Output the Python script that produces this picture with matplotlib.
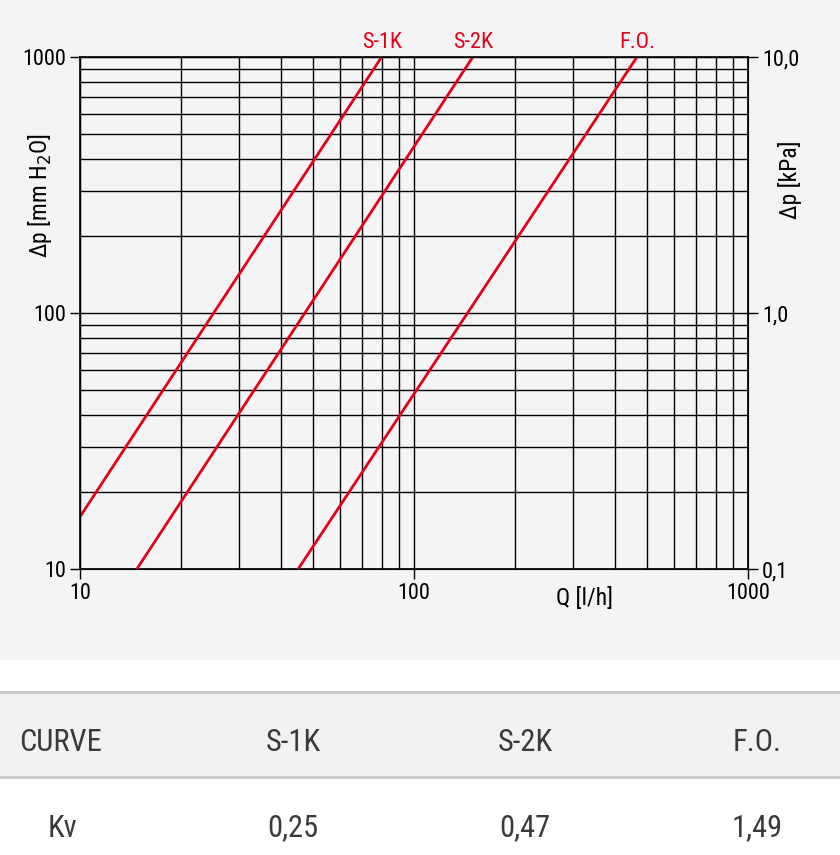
import matplotlib.pyplot as plt
from matplotlib.patches import Rectangle
from matplotlib.ticker import FixedLocator, NullFormatter

# curve endpoints (Q in l/h, dp in mm H2O)
curves = ['S-1K', 'S-2K', 'F.O.']
q_start = [10, 14.8, 45]
dp_start = [16, 10, 10]
q_end = [80, 150, 465]
dp_end = [1000, 1000, 1000]

kv_values = ['0,25', '0,47', '1,49']

x_ticks = [10, 100, 1000]
y_ticks = [10, 100, 1000]
kpa_ticks = [0.1, 1.0, 10.0]
kpa_labels = ['0,1', '1,0', '10,0']

RED = '#e2001a'
W, H = 840, 855

plt.rcParams['font.family'] = ['Roboto Condensed', 'Liberation Sans Narrow', 'Roboto', 'DejaVu Sans']

fig = plt.figure(figsize=(W / 100, H / 100), dpi=100)
fig.patch.set_facecolor('white')


def fx(px):
    return px / W


def fy(py):
    return 1 - py / H


# backgrounds of chart area and table header
fig.add_artist(Rectangle((0, fy(660)), 1, 660 / H, transform=fig.transFigure,
                         facecolor='#f4f4f4', edgecolor='none', zorder=-10))
fig.add_artist(Rectangle((0, fy(777)), 1, 85 / H, transform=fig.transFigure,
                         facecolor='#f2f2f2', edgecolor='none', zorder=-10))
for yy in (692, 777):
    fig.add_artist(plt.Line2D([0, 1], [fy(yy), fy(yy)], transform=fig.transFigure,
                              color='#c8c8c8', lw=2))

ax = fig.add_axes([fx(80), fy(569), fx(748) - fx(80), (569 - 57) / H])
ax.set_facecolor('none')
ax.set_xscale('log')
ax.set_yscale('log')
ax.set_xlim(10, 1000)
ax.set_ylim(10, 1000)

for i, name in enumerate(curves):
    ax.plot([q_start[i], q_end[i]], [dp_start[i], dp_end[i]], color=RED, lw=2, zorder=3)
    ax.annotate(name, (q_end[i], dp_end[i]), xytext=(0, 3), textcoords='offset points',
                ha='center', va='bottom', color=RED, fontsize=16, annotation_clip=False)

ax.grid(True, which='both', color='black', lw=1)
ax.set_axisbelow(True)
for s in ax.spines.values():
    s.set_color('black')
    s.set_linewidth(1.2)

ax.xaxis.set_major_locator(FixedLocator(x_ticks))
ax.yaxis.set_major_locator(FixedLocator(y_ticks))
ax.set_xticklabels([str(v) for v in x_ticks])
ax.set_yticklabels([str(v) for v in y_ticks])
ax.xaxis.set_minor_formatter(NullFormatter())
ax.yaxis.set_minor_formatter(NullFormatter())
ax.tick_params(which='major', direction='out', length=7, width=1, labelsize=16, pad=3)
ax.tick_params(which='minor', length=0)

fig.text(fx(40), fy(195), 'Δp [mm H$_2$O]', rotation=90, ha='center', va='center', fontsize=17)
fig.text(fx(585), fy(598), 'Q [l/h]', ha='center', va='center', fontsize=17)
fig.text(fx(790), fy(180), 'Δp [kPa]', rotation=90, ha='center', va='center', fontsize=17)

ax2 = ax.twinx()
ax2.set_yscale('log')
ax2.set_ylim(0.1, 10)
ax2.yaxis.set_major_locator(FixedLocator(kpa_ticks))
ax2.set_yticklabels(kpa_labels)
ax2.yaxis.set_minor_formatter(NullFormatter())
ax2.tick_params(which='major', direction='out', length=7, width=1, labelsize=16, pad=3)
ax2.tick_params(which='minor', length=0)

# table below the chart
tcol = '#3a3a3a'
fig.text(fx(19), fy(742), 'CURVE', ha='left', va='center', fontsize=22, color=tcol)
fig.text(fx(62), fy(828), 'Kv', ha='center', va='center', fontsize=22, color=tcol)
col_x = [293, 525, 757]
for i, name in enumerate(curves):
    fig.text(fx(col_x[i]), fy(742), name, ha='center', va='center', fontsize=22, color=tcol)
    fig.text(fx(col_x[i]), fy(828), kv_values[i], ha='center', va='center', fontsize=22,
             color=tcol)

fig.savefig('out.png', dpi=100)
